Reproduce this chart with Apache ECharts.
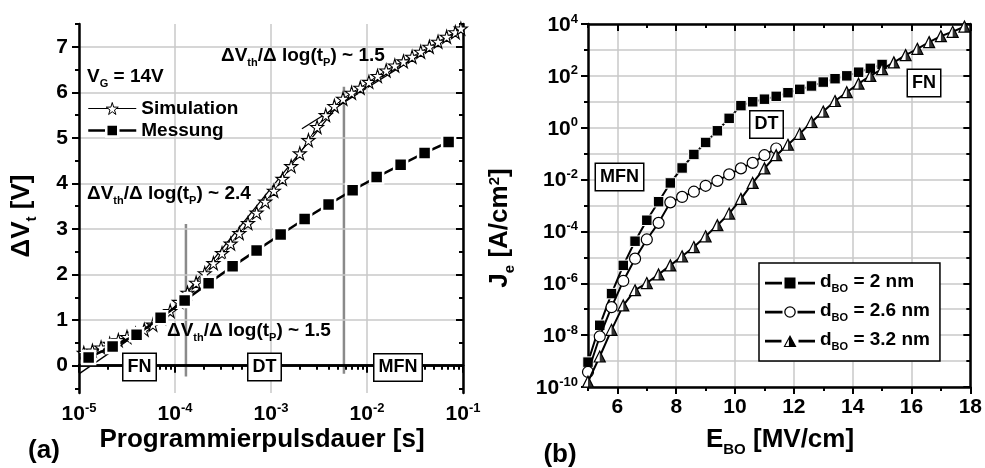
<!DOCTYPE html>
<html><head><meta charset="utf-8">
<script src="https://cdn.jsdelivr.net/npm/echarts@6.0.0/dist/echarts.min.js"></script>
<style>html,body{margin:0;padding:0;background:#fff;}#chart{width:985px;height:468px;}</style>
</head><body><div id="chart"></div>
<script>
const FONT = '"Liberation Sans", Arial, sans-serif';

// ---------- Panel (a) data ----------
const messT = [1.26e-5, 2.24e-5, 3.98e-5, 7.08e-5, 1.26e-4, 2.24e-4, 3.98e-4, 7.08e-4, 1.26e-3, 2.24e-3, 3.98e-3, 7.08e-3, 1.26e-2, 2.24e-2, 3.98e-2, 7.08e-2];
const messV = [0.18, 0.42, 0.68, 1.05, 1.43, 1.81, 2.18, 2.53, 2.88, 3.22, 3.54, 3.85, 4.14, 4.41, 4.67, 4.91];
const simT = [1.122e-5, 1.380e-5, 1.698e-5, 2.089e-5, 2.570e-5, 3.162e-5, 3.890e-5, 4.786e-5, 5.888e-5, 7.244e-5,
  8.913e-5, 1.096e-4, 1.349e-4, 1.660e-4, 2.042e-4, 2.512e-4, 3.090e-4, 3.802e-4, 4.677e-4, 5.754e-4,
  7.079e-4, 8.710e-4, 1.072e-3, 1.318e-3, 1.622e-3, 1.995e-3, 2.455e-3, 3.020e-3, 3.715e-3, 4.571e-3,
  5.623e-3, 6.918e-3, 8.511e-3, 1.047e-2, 1.288e-2, 1.585e-2, 1.950e-2, 2.399e-2, 2.951e-2, 3.631e-2,
  4.467e-2, 5.495e-2, 6.761e-2, 8.318e-2, 9.5e-2];
const simV = [0.28, 0.33, 0.40, 0.48, 0.56, 0.63, 0.70, 0.79, 0.90, 1.04,
  1.20, 1.40, 1.60, 1.82, 2.03, 2.25, 2.47, 2.68, 2.91, 3.13,
  3.36, 3.60, 3.84, 4.10, 4.38, 4.66, 4.95, 5.24, 5.50, 5.70,
  5.86, 5.99, 6.10, 6.23, 6.36, 6.48, 6.59, 6.68, 6.78, 6.89,
  7.00, 7.11, 7.22, 7.32, 7.40];
// fitted slope lines (end points)
const fitFNT = [1.0e-5, 1.4e-4];
const fitFNV = [-0.18, 1.48];
const fitDTT = [9.0e-5, 5.7e-3];
const fitDTV = [1.17, 5.86];
const fitMFNT = [2.1e-3, 1.0e-1];
const fitMFNV = [5.20, 7.42];
// regime boundaries
const bound1T = [1.3e-4, 1.3e-4];
const bound1V = [-0.24, 3.11];
const bound2T = [5.75e-3, 5.75e-3];
const bound2V = [-0.18, 6.12];
// ticks (a)
const aXMajor = [1e-5, 1e-4, 1e-3, 1e-2, 1e-1];
const aXMinor = [2e-5,3e-5,4e-5,5e-5,6e-5,7e-5,8e-5,9e-5, 2e-4,3e-4,4e-4,5e-4,6e-4,7e-4,8e-4,9e-4,
  2e-3,3e-3,4e-3,5e-3,6e-3,7e-3,8e-3,9e-3, 2e-2,3e-2,4e-2,5e-2,6e-2,7e-2,8e-2,9e-2];
const aYMajor = [0, 1, 2, 3, 4, 5, 6, 7];
const aYMinor = [-0.5, 0.5, 1.5, 2.5, 3.5, 4.5, 5.5, 6.5, 7.5];

// ---------- Panel (b) data ----------
const e2 = [5.0,5.4,5.8,6.2,6.6,7.0,7.4,7.8,8.2,8.6,9.0,9.4,9.8,10.2,10.6,11.0,11.4,11.8,12.2,12.6,13.0,13.4,13.8,14.2,14.6,15.0];
const j2 = [9.1e-10,2.4e-8,4.0e-7,4.9e-6,4.2e-5,2.7e-4,1.4e-3,7.4e-3,2.8e-2,9.3e-2,0.27,0.76,2.3,7.1,10,12.6,16.2,22.4,30.2,40.7,57.5,77.6,100,138,195,275];
const e26 = [5.0,5.4,5.8,6.2,6.6,7.0,7.4,7.8,8.2,8.6,9.0,9.4,9.8,10.2,10.6,11.0,11.4];
const j26 = [3.8e-10,8.9e-9,1.2e-7,1.23e-6,8.9e-6,4.9e-5,2.14e-4,1.32e-3,2.14e-3,3.4e-3,5.75e-3,8.9e-3,1.58e-2,2.7e-2,4.4e-2,8.7e-2,0.158];
const e32 = [5.0,5.4,5.8,6.2,6.6,7.0,7.4,7.8,8.2,8.6,9.0,9.4,9.8,10.2,10.6,11.0,11.4,11.8,12.2,12.6,13.0,13.4,13.8,14.2,14.6,15.0,15.4,15.8,16.2,16.6,17.0,17.4,17.8];
const j32 = [1.6e-10,1.5e-9,1.6e-8,1.4e-7,5.4e-7,1.02e-6,2.2e-6,4.9e-6,1.1e-5,2.5e-5,6.5e-5,1.74e-4,4.9e-4,1.8e-3,7.4e-3,2.7e-2,8.7e-2,0.22,0.58,1.66,4.2,10.7,23.4,50,100,182,331,631,1100,2000,3390,5010,7940];
// ticks (b)
const bXMajor = [6, 8, 10, 12, 14, 16, 18];
const bXMinor = [5, 7, 9, 11, 13, 15, 17];
const bYMajor = [1e-10, 1e-8, 1e-6, 1e-4, 1e-2, 1, 1e2, 1e4];
const bYMinor = [1e-9, 1e-7, 1e-5, 1e-3, 1e-1, 1e1, 1e3];

const zip = (a, b) => a.map((v, i) => [v, b[i]]);

// ---------- styles ----------
const GRID_LINE = { show: true, lineStyle: { color: '#c8c8c8', width: 1.5 } };
const AXIS_LINE = { show: true, lineStyle: { color: '#000', width: 2.5 } };
const supRich = {
  b: { fontSize: 21, fontWeight: 'bold', fontFamily: FONT, color: '#000', verticalAlign: 'top', padding: [2, 0, 0, 0] },
  s: { fontSize: 13, fontWeight: 'bold', fontFamily: FONT, color: '#000', verticalAlign: 'top' }
};
const expFmt = v => '{b|10}{s|' + Math.round(Math.log10(v)) + '}';

function axis(o) {
  const a = {
    gridIndex: o.grid, type: o.type, position: o.pos, min: o.min, max: o.max,
    axisLine: o.line ? AXIS_LINE : { show: false },
    axisTick: { show: true, inside: !!o.inside, length: o.len, customValues: o.vals, lineStyle: { color: '#000', width: 2 } },
    axisLabel: o.label ? Object.assign({ show: true, customValues: o.vals, color: '#000', fontFamily: FONT, fontWeight: 'bold', fontSize: 21, margin: o.margin || 10 }, o.label) : { show: false },
    splitLine: o.split ? GRID_LINE : { show: false },
    z: o.z || 3
  };
  if (o.type === 'log') a.logBase = 10;
  return a;
}

const xAxes = [
  axis({ grid: 0, type: 'log', pos: 'bottom', min: 1e-5, max: 1e-1, vals: aXMajor, len: 7, line: true, split: true, label: { formatter: expFmt, rich: supRich, margin: 9 } }),
  axis({ grid: 0, type: 'log', pos: 'bottom', min: 1e-5, max: 1e-1, vals: aXMinor, len: 4 }),
  axis({ grid: 0, type: 'log', pos: 'top', min: 1e-5, max: 1e-1, vals: aXMajor, len: 7, inside: true, line: true }),
  axis({ grid: 0, type: 'log', pos: 'top', min: 1e-5, max: 1e-1, vals: aXMinor, len: 4, inside: true }),
  axis({ grid: 1, type: 'value', pos: 'bottom', min: 5, max: 18, vals: bXMajor, len: 7, line: true, split: true, label: { margin: 10 } }),
  axis({ grid: 1, type: 'value', pos: 'bottom', min: 5, max: 18, vals: bXMinor, len: 4 }),
  axis({ grid: 1, type: 'value', pos: 'top', min: 5, max: 18, vals: bXMajor, len: 7, inside: true, line: true }),
  axis({ grid: 1, type: 'value', pos: 'top', min: 5, max: 18, vals: bXMinor, len: 4, inside: true })
];
const yAxes = [
  axis({ grid: 0, type: 'value', pos: 'left', min: -0.6, max: 7.5, vals: aYMajor, len: 7, line: true, split: true, label: { margin: 11 } }),
  axis({ grid: 0, type: 'value', pos: 'left', min: -0.6, max: 7.5, vals: aYMinor, len: 4 }),
  axis({ grid: 0, type: 'value', pos: 'right', min: -0.6, max: 7.5, vals: aYMajor, len: 7, inside: true, line: true }),
  axis({ grid: 0, type: 'value', pos: 'right', min: -0.6, max: 7.5, vals: aYMinor, len: 4, inside: true }),
  axis({ grid: 1, type: 'log', pos: 'left', min: 1e-10, max: 1e4, vals: bYMajor, len: 7, line: true, split: true, label: { formatter: expFmt, rich: supRich, margin: 10 } }),
  axis({ grid: 1, type: 'log', pos: 'left', min: 1e-10, max: 1e4, vals: bYMinor, len: 4, split: true }),
  axis({ grid: 1, type: 'log', pos: 'right', min: 1e-10, max: 1e4, vals: bYMajor, len: 7, inside: true, line: true }),
  axis({ grid: 1, type: 'log', pos: 'right', min: 1e-10, max: 1e4, vals: bYMinor, len: 4, inside: true })
];

const STAR = 'path://M50,0 L61,35 L98,35 L68,57 L79,91 L50,70 L21,91 L32,57 L2,35 L39,35 Z';
const HALF_TRI = 'path://M0,100 L0.5,100 L0,99.5 Z M50,0 L100,100 L50,100 Z';
// legend icons (50 x 12 box): line with gaps + symbol
const CORNERS = 'M0,0 L0.01,0 L0,0.01 Z M50,12 L49.99,12 L50,11.99 Z ';
const ICON_SQ = 'path://' + CORNERS + 'M0,4.8 L17,4.8 L17,7.6 L0,7.6 Z M33,4.8 L50,4.8 L50,7.6 L33,7.6 Z M19.5,0.5 L30.5,0.5 L30.5,11.5 L19.5,11.5 Z';
const ICON_CI = 'path://' + CORNERS + 'M0,4.8 L17.5,4.8 L17.5,7.6 L0,7.6 Z M32.5,4.8 L50,4.8 L50,7.6 L32.5,7.6 Z ' +
  'M19.2,6 A5.8,5.8 0 1,0 30.8,6 A5.8,5.8 0 1,0 19.2,6 Z M20.5,6 A4.5,4.5 0 1,1 29.5,6 A4.5,4.5 0 1,1 20.5,6 Z';
const ICON_TR = 'path://' + CORNERS + 'M0,4.8 L16.5,4.8 L16.5,7.6 L0,7.6 Z M33.5,4.8 L50,4.8 L50,7.6 L33.5,7.6 Z ' +
  'M25,0 L31.5,12 L18.5,12 Z M23.9,4.34 L20.35,10.9 L23.9,10.9 Z';

function plainLine(name, xs, ys, color, width, xi, yi) {
  return { name, type: 'line', xAxisIndex: xi, yAxisIndex: yi, data: zip(xs, ys), symbol: 'none', silent: true,
    lineStyle: { color, width }, z: 2 };
}

const series = [
  plainLine('b1', bound1T, bound1V, '#8a8a8a', 2.5, 0, 0),
  plainLine('b2', bound2T, bound2V, '#8a8a8a', 2.5, 0, 0),
  plainLine('f1', fitFNT, fitFNV, '#000', 1.3, 0, 0),
  plainLine('f2', fitDTT, fitDTV, '#000', 1.3, 0, 0),
  plainLine('f3', fitMFNT, fitMFNV, '#000', 1.3, 0, 0),
  { name: 'Simulation', type: 'line', xAxisIndex: 0, yAxisIndex: 0, data: zip(simT, simV),
    symbol: STAR, symbolSize: 13, lineStyle: { color: '#000', width: 1 },
    itemStyle: { color: '#fff', borderColor: '#000', borderWidth: 1.1 }, z: 4 },
  { name: 'Messung', type: 'line', xAxisIndex: 0, yAxisIndex: 0, data: zip(messT, messV),
    symbol: 'rect', symbolSize: 13, lineStyle: { color: '#000', width: 2.5 },
    itemStyle: { color: '#000', borderColor: '#fff', borderWidth: 2.5 }, z: 5 },
  { name: 'd2', type: 'line', xAxisIndex: 4, yAxisIndex: 4, data: zip(e2, j2),
    symbol: 'rect', symbolSize: 10.5, lineStyle: { color: '#000', width: 2 },
    itemStyle: { color: '#000', borderColor: '#fff', borderWidth: 1 }, z: 4 },
  { name: 'd26', type: 'line', xAxisIndex: 4, yAxisIndex: 4, data: zip(e26, j26),
    symbol: 'circle', symbolSize: 11, lineStyle: { color: '#000', width: 2 },
    itemStyle: { color: '#fff', borderColor: '#000', borderWidth: 1.2 }, z: 5 },
  { name: 'd32', type: 'line', xAxisIndex: 4, yAxisIndex: 4, data: zip(e32, j32),
    symbol: 'triangle', symbolSize: 11, lineStyle: { color: '#000', width: 2 },
    itemStyle: { color: '#fff', borderColor: '#000', borderWidth: 1.2 }, z: 6 },
  { name: 'd32half', type: 'scatter', xAxisIndex: 4, yAxisIndex: 4, data: zip(e32, j32),
    symbol: HALF_TRI, symbolSize: 11, itemStyle: { color: '#000' }, silent: true, z: 7 }
];

const subRich = {
  n: { fontSize: 19, fontWeight: 'bold', fontFamily: FONT, color: '#000', verticalAlign: 'top' },
  u: { fontSize: 11, fontWeight: 'bold', fontFamily: FONT, color: '#000', verticalAlign: 'top', padding: [11, 0, 0, 0] }
};
const bigRich = {
  n: { fontSize: 26, fontWeight: 'bold', fontFamily: FONT, color: '#000', verticalAlign: 'top' },
  u: { fontSize: 15, fontWeight: 'bold', fontFamily: FONT, color: '#000', verticalAlign: 'top', padding: [15, 0, 0, 0] },
  p: { fontSize: 15, fontWeight: 'bold', fontFamily: FONT, color: '#000', verticalAlign: 'top' }
};
function label(x, y, text, rich, align, vAlign, rot) {
  return { type: 'text', x, y, rotation: rot || 0, z: 20,
    style: { text, rich, align: align || 'left', verticalAlign: vAlign || 'middle' } };
}
function boxed(x, y, text) {
  return { type: 'text', x, y, z: 20,
    style: { text, fontSize: 18, fontWeight: 'bold', fontFamily: FONT, fill: '#000', align: 'center', verticalAlign: 'middle',
      backgroundColor: '#fff', borderColor: '#000', borderWidth: 1.5, padding: [5, 4, 3, 4] } };
}
const slope = v => '{n|ΔV}{u|th}{n|/Δ log(t}{u|P}{n|) ~ ' + v + '}';

const graphics = [
  label(87, 78, '{n|V}{u|G}{n| = 14V}', subRich),
  label(221, 57, slope('1.5'), subRich),
  label(87, 195, slope('2.4'), subRich),
  label(167, 332, slope('1.5'), subRich),
  boxed(139.5, 367, 'FN'), boxed(264.5, 367, 'DT'), boxed(398, 367.5, 'MFN'),
  boxed(619.5, 177, 'MFN'), boxed(766.5, 124.5, 'DT'), boxed(924, 83, 'FN'),
  label(262, 440, '{n|Programmierpulsdauer [s]}', bigRich, 'center'),
  label(780, 442, '{n|E}{u|BO}{n| [MV/cm]}', bigRich, 'center'),
  label(44, 451, '{n|(a)}', bigRich, 'center'),
  label(560, 455, '{n|(b)}', bigRich, 'center'),
  label(24, 216, '{n|ΔV}{u|t}{n| [V]}', bigRich, 'center', 'middle', Math.PI / 2),
  label(502, 228, '{n|J}{u|e}{n| [A/cm}{p|2}{n|]}', bigRich, 'center', 'middle', Math.PI / 2)
];

const legendNames = { d2: '2 nm', d26: '2.6 nm', d32: '3.2 nm' };
const option = {
  animation: false,
  backgroundColor: '#fff',
  grid: [
    { left: 79, top: 24, width: 384, height: 369 },
    { left: 588, top: 24, width: 383, height: 363 }
  ],
  xAxis: xAxes,
  yAxis: yAxes,
  legend: [
    { data: [
        { name: 'Simulation', itemStyle: { color: '#fff', borderColor: '#000', borderWidth: 1 }, lineStyle: { color: '#000', width: 1 } },
        { name: 'Messung', itemStyle: { color: '#000', borderColor: '#fff', borderWidth: 2.5 }, lineStyle: { color: '#000', width: 2.5 } }
      ],
      orient: 'vertical', left: 82, top: 94, itemWidth: 48, itemHeight: 15, itemGap: 3,
      textStyle: { fontSize: 19, fontWeight: 'bold', fontFamily: FONT, color: '#000' } },
    { data: [
        { name: 'd2', icon: ICON_SQ, itemStyle: { color: '#000', borderWidth: 0 } },
        { name: 'd26', icon: ICON_CI, itemStyle: { color: '#000', borderWidth: 0 } },
        { name: 'd32', icon: ICON_TR, itemStyle: { color: '#000', borderWidth: 0 } }
      ],
      orient: 'vertical', left: 759, top: 263, itemWidth: 50, itemHeight: 12, itemGap: 7,
      borderColor: '#000', borderWidth: 1.5, padding: [9, 10, 9, 6], backgroundColor: '#fff', z: 15,
      formatter: n => '{n|d}{u|BO}{n| = ' + legendNames[n] + '}',
      textStyle: { rich: subRich } }
  ],
  series,
  graphic: graphics
};
const chart = echarts.init(document.getElementById('chart'), null, { renderer: 'canvas' });
chart.setOption(option);
</script></body></html>
